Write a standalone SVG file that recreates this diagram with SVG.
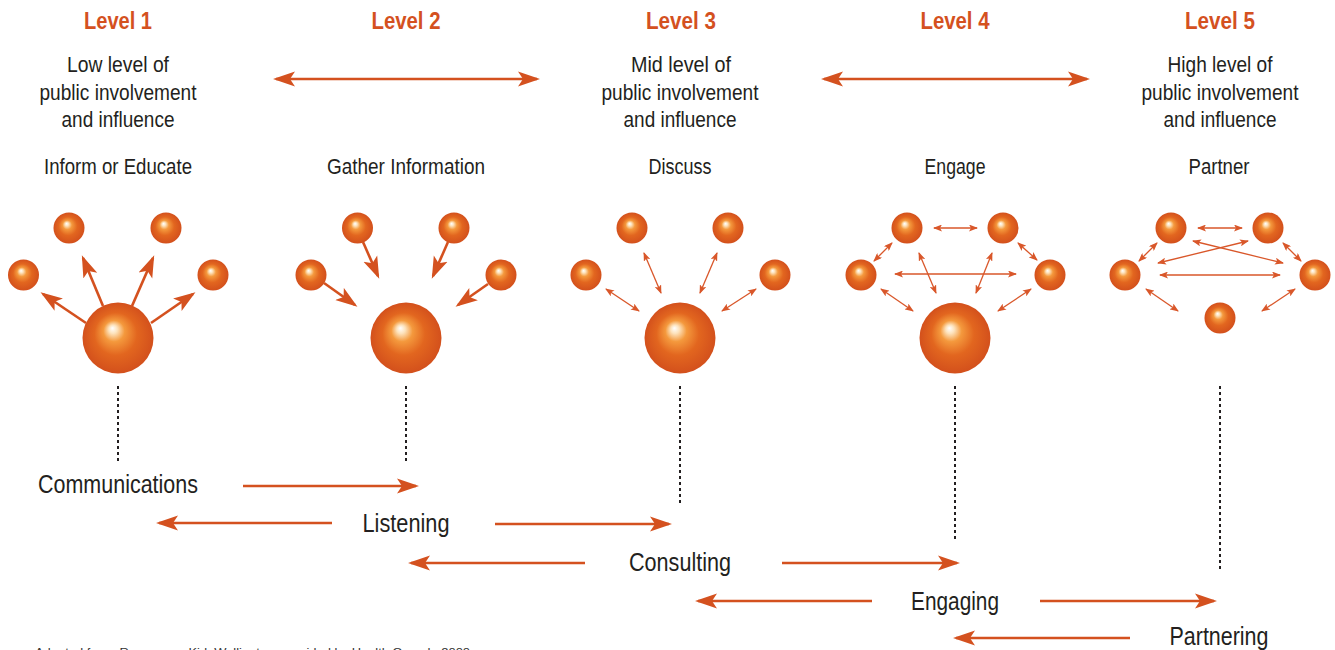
<svg xmlns="http://www.w3.org/2000/svg" width="1335" height="650" viewBox="0 0 1335 650">
  <style>
    .hdr { font-family: "Liberation Sans", Arial, sans-serif; font-weight: bold; font-size: 23px; fill: #d4511f; text-anchor: middle; }
    .txt { font-family: "Liberation Sans", Arial, sans-serif; font-size: 22px; fill: #231f20; text-anchor: middle; }
    .big { font-family: "Liberation Sans", Arial, sans-serif; font-size: 25px; fill: #231f20; text-anchor: middle; }
    .note { font-family: "Liberation Sans", Arial, sans-serif; font-size: 11px; fill: #333; }
    .ball { fill: url(#ball); }
    .thick { stroke: #d4511f; stroke-width: 2.6; fill: none; marker-end: url(#head); }
    .dbl { stroke: #d4511f; stroke-width: 2.4; fill: none; marker-start: url(#head); marker-end: url(#head); }
    .thin { stroke: #d9572a; stroke-width: 1.3; fill: none; marker-start: url(#tiny); marker-end: url(#tiny); }
    .dots { stroke: #231f20; stroke-width: 2; stroke-dasharray: 3 3; fill: none; }
  </style>
  <defs>
    <radialGradient id="ball" cx="0.5" cy="0.5" r="0.5" fx="0.42" fy="0.36">
      <stop offset="0" stop-color="#ffffff"/>
      <stop offset="0.12" stop-color="#fde3bd"/>
      <stop offset="0.3" stop-color="#f4993d"/>
      <stop offset="0.6" stop-color="#e2661f"/>
      <stop offset="1" stop-color="#d3501c"/>
    </radialGradient>
    <marker id="head" viewBox="0 0 22 16" markerWidth="22" markerHeight="16" refX="19" refY="8" orient="auto-start-reverse" markerUnits="userSpaceOnUse">
      <path d="M0,0.5 L22,8 L0,15.5 L5,8 Z" fill="#d4511f"/>
    </marker>
    <marker id="tiny" viewBox="0 0 9 7" markerWidth="9" markerHeight="7" refX="8" refY="3.5" orient="auto-start-reverse" markerUnits="userSpaceOnUse">
      <path d="M0,0 L9,3.5 L0,7 L2,3.5 Z" fill="#d9572a"/>
    </marker>
  </defs>

  <!-- level headings and descriptions (condensed via textLength) -->
  <g id="level1">
    <text class="hdr" x="118" y="29" textLength="68" lengthAdjust="spacingAndGlyphs">Level 1</text>
    <text class="txt" x="118" y="72" textLength="102" lengthAdjust="spacingAndGlyphs">Low level of</text>
    <text class="txt" x="118" y="100" textLength="157" lengthAdjust="spacingAndGlyphs">public involvement</text>
    <text class="txt" x="118" y="127" textLength="113" lengthAdjust="spacingAndGlyphs">and influence</text>
    <text class="txt" x="118" y="174" textLength="148" lengthAdjust="spacingAndGlyphs">Inform or Educate</text>
  </g>
  <g id="level2">
    <text class="hdr" x="406" y="29" textLength="69" lengthAdjust="spacingAndGlyphs">Level 2</text>
    <text class="txt" x="406" y="174" textLength="158" lengthAdjust="spacingAndGlyphs">Gather Information</text>
  </g>
  <g id="level3">
    <text class="hdr" x="681" y="29" textLength="70" lengthAdjust="spacingAndGlyphs">Level 3</text>
    <text class="txt" x="681" y="72" textLength="100" lengthAdjust="spacingAndGlyphs">Mid level of</text>
    <text class="txt" x="680" y="100" textLength="157" lengthAdjust="spacingAndGlyphs">public involvement</text>
    <text class="txt" x="680" y="127" textLength="113" lengthAdjust="spacingAndGlyphs">and influence</text>
    <text class="txt" x="680" y="174" textLength="63" lengthAdjust="spacingAndGlyphs">Discuss</text>
  </g>
  <g id="level4">
    <text class="hdr" x="955" y="29" textLength="69" lengthAdjust="spacingAndGlyphs">Level 4</text>
    <text class="txt" x="955" y="174" textLength="61" lengthAdjust="spacingAndGlyphs">Engage</text>
  </g>
  <g id="level5">
    <text class="hdr" x="1220" y="29" textLength="70" lengthAdjust="spacingAndGlyphs">Level 5</text>
    <text class="txt" x="1220" y="72" textLength="105" lengthAdjust="spacingAndGlyphs">High level of</text>
    <text class="txt" x="1220" y="100" textLength="157" lengthAdjust="spacingAndGlyphs">public involvement</text>
    <text class="txt" x="1220" y="127" textLength="113" lengthAdjust="spacingAndGlyphs">and influence</text>
    <text class="txt" x="1219" y="174" textLength="61" lengthAdjust="spacingAndGlyphs">Partner</text>
  </g>

  <!-- sphere clusters -->
  <g id="spheres1">
    <circle class="ball" cx="23.5" cy="275" r="15.5"/>
    <circle class="ball" cx="69" cy="228" r="15.5"/>
    <circle class="ball" cx="166" cy="228" r="15.5"/>
    <circle class="ball" cx="213" cy="275" r="15.5"/>
    <circle class="ball" cx="118" cy="338" r="35.5"/>
  </g>
  <g id="spheres2">
    <circle class="ball" cx="311" cy="275" r="15.5"/>
    <circle class="ball" cx="357.5" cy="228" r="15.5"/>
    <circle class="ball" cx="454" cy="228" r="15.5"/>
    <circle class="ball" cx="501" cy="275" r="15.5"/>
    <circle class="ball" cx="406" cy="338" r="35.5"/>
  </g>
  <g id="spheres3">
    <circle class="ball" cx="586" cy="275" r="15.5"/>
    <circle class="ball" cx="632" cy="228" r="15.5"/>
    <circle class="ball" cx="728" cy="228" r="15.5"/>
    <circle class="ball" cx="775" cy="275" r="15.5"/>
    <circle class="ball" cx="680" cy="338" r="35.5"/>
  </g>
  <g id="spheres4">
    <circle class="ball" cx="861" cy="275" r="15.5"/>
    <circle class="ball" cx="907" cy="228" r="15.5"/>
    <circle class="ball" cx="1003" cy="228" r="15.5"/>
    <circle class="ball" cx="1050" cy="275" r="15.5"/>
    <circle class="ball" cx="955" cy="338" r="35.5"/>
  </g>
  <g id="spheres5">
    <circle class="ball" cx="1125" cy="275" r="15.5"/>
    <circle class="ball" cx="1171" cy="228" r="15.5"/>
    <circle class="ball" cx="1268" cy="228" r="15.5"/>
    <circle class="ball" cx="1315" cy="275" r="15.5"/>
    <circle class="ball" cx="1220" cy="318" r="15.5"/>
  </g>

  <!-- approach labels -->
  <g id="communications"><text class="big" x="118" y="493" textLength="160" lengthAdjust="spacingAndGlyphs">Communications</text></g>
  <g id="listening"><text class="big" x="406" y="532" textLength="87" lengthAdjust="spacingAndGlyphs">Listening</text></g>
  <g id="consulting"><text class="big" x="680" y="571" textLength="102" lengthAdjust="spacingAndGlyphs">Consulting</text></g>
  <g id="engaging"><text class="big" x="955" y="610" textLength="88" lengthAdjust="spacingAndGlyphs">Engaging</text></g>
  <g id="partnering"><text class="big" x="1219" y="645" textLength="99" lengthAdjust="spacingAndGlyphs">Partnering</text></g>

  <g id="connectors">
    <!-- scale of involvement -->
    <line class="dbl" x1="276" y1="79" x2="537" y2="79"/>
    <line class="dbl" x1="824" y1="79" x2="1087" y2="79"/>

    <!-- inform: outward -->
    <line class="thick" x1="86" y1="323" x2="43" y2="294"/>
    <line class="thick" x1="103" y1="306" x2="83" y2="258"/>
    <line class="thick" x1="132" y1="306" x2="153" y2="258"/>
    <line class="thick" x1="151" y1="323" x2="193" y2="294"/>

    <!-- gather: inward -->
    <line class="thick" x1="324" y1="283" x2="355" y2="305"/>
    <line class="thick" x1="363" y1="242" x2="378" y2="276"/>
    <line class="thick" x1="448" y1="242" x2="433" y2="276"/>
    <line class="thick" x1="488" y1="284" x2="458" y2="305"/>

    <!-- discuss: two-way -->
    <line class="thin" x1="606" y1="289" x2="639" y2="311"/>
    <line class="thin" x1="644" y1="253" x2="661" y2="293"/>
    <line class="thin" x1="717" y1="253" x2="700" y2="293"/>
    <line class="thin" x1="756" y1="289" x2="722" y2="311"/>

    <!-- engage: network -->
    <line class="thin" x1="934" y1="228" x2="977" y2="228"/>
    <line class="thin" x1="892" y1="243" x2="874" y2="261"/>
    <line class="thin" x1="1018" y1="243" x2="1037" y2="260"/>
    <line class="thin" x1="895" y1="274" x2="1016" y2="274"/>
    <line class="thin" x1="919" y1="253" x2="936" y2="293"/>
    <line class="thin" x1="992" y1="253" x2="976" y2="293"/>
    <line class="thin" x1="881" y1="289" x2="913" y2="311"/>
    <line class="thin" x1="1031" y1="289" x2="998" y2="311"/>

    <!-- partner: network -->
    <line class="thin" x1="1198" y1="228" x2="1242" y2="228"/>
    <line class="thin" x1="1157" y1="243" x2="1139" y2="261"/>
    <line class="thin" x1="1283" y1="243" x2="1301" y2="261"/>
    <line class="thin" x1="1193" y1="241" x2="1283" y2="263"/>
    <line class="thin" x1="1248" y1="241" x2="1158" y2="263"/>
    <line class="thin" x1="1160" y1="275" x2="1280" y2="275"/>
    <line class="thin" x1="1146" y1="289" x2="1178" y2="311"/>
    <line class="thin" x1="1295" y1="289" x2="1262" y2="311"/>

    <!-- dotted drops -->
    <line class="dots" x1="118" y1="386" x2="118" y2="462"/>
    <line class="dots" x1="406" y1="386" x2="406" y2="463"/>
    <line class="dots" x1="680" y1="386" x2="680" y2="503"/>
    <line class="dots" x1="955" y1="386" x2="955" y2="540"/>
    <line class="dots" x1="1220" y1="386" x2="1220" y2="572"/>

    <!-- approach sequence -->
    <line class="thick" x1="243" y1="486" x2="416" y2="486"/>
    <line class="thick" x1="332" y1="523" x2="159" y2="523"/>
    <line class="thick" x1="495" y1="524" x2="669" y2="524"/>
    <line class="thick" x1="585" y1="563" x2="411" y2="563"/>
    <line class="thick" x1="782" y1="563" x2="957" y2="563"/>
    <line class="thick" x1="872" y1="601" x2="698" y2="601"/>
    <line class="thick" x1="1040" y1="601" x2="1214" y2="601"/>
    <line class="thick" x1="1130" y1="638" x2="956" y2="638"/>
  </g>

  <!-- source line, runs off the bottom edge -->
  <text class="note" x="35" y="656" textLength="435" lengthAdjust="spacingAndGlyphs">Adapted from: Resources, Kirk Wellington, provided by Health Canada 2000</text>
</svg>
